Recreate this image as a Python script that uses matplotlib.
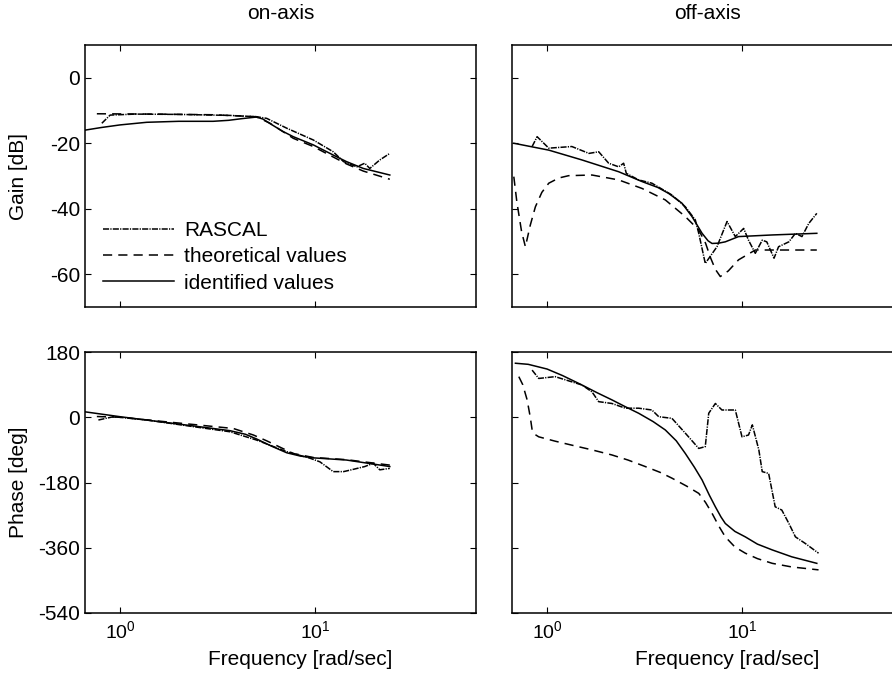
import matplotlib.pyplot as plt
import numpy as np

plt.rcParams['font.family'] = ['Liberation Sans', 'DejaVu Sans']
plt.rcParams['axes.unicode_minus'] = False

# on-axis gain [dB]
on_gain_ras_f = [0.806, 0.889, 1.2, 2.03, 3.66, 5.02, 5.65, 7.16, 9.8, 12.4, 14.0, 16.4, 18.0, 19.1, 21.5, 24.2]
on_gain_ras = [-13.9, -11.4, -11.1, -11.2, -11.5, -11.9, -12.4, -15.4, -19.0, -22.6, -25.6, -27.2, -26.1, -27.7, -25.1, -23.1]
on_gain_th_f = [0.76, 1.5, 3.0, 5.0, 5.88, 7.74, 9.8, 12.4, 14.5, 17.7, 24.2]
on_gain_th = [-11.0, -11.1, -11.3, -11.9, -13.9, -18.5, -21.0, -24.2, -26.3, -28.5, -31.0]
on_gain_id_f = [0.66, 0.8, 1.0, 1.37, 2.0, 3.0, 3.6, 4.2, 5.0, 5.4, 5.88, 6.8, 7.74, 9.8, 12.4, 14.5, 17.7, 24.2]
on_gain_id = [-16.0, -15.2, -14.4, -13.6, -13.3, -13.3, -13.0, -12.5, -12.0, -12.6, -14.0, -16.3, -18.0, -20.5, -23.6,
              -25.6, -27.7, -29.7]

# on-axis phase [deg]
on_ph_ras_f = [0.774, 0.924, 1.37, 2.38, 3.66, 5.02, 7.16, 9.43, 10.6, 12.4, 14.0, 15.1, 18.0, 19.9, 21.5, 24.2]
on_ph_ras = [-7.6, 1.5, -7.6, -26, -40, -63, -95, -113, -123, -150, -150, -146, -136, -127, -145, -141]
on_ph_th_f = [0.76, 1.0, 2.38, 3.81, 4.83, 5.65, 7.74, 9.8, 14.5, 24.2]
on_ph_th = [2, 0, -20, -31, -49, -65, -100, -111, -117, -132]
on_ph_id_f = [0.66, 1.0, 2.38, 3.66, 4.4, 5.02, 6.0, 7.16, 8.4, 9.8, 14.5, 24.2]
on_ph_id = [15, 1.5, -24, -37, -47, -60, -80, -98, -107, -112, -118, -136]

# off-axis gain [dB]
off_gain_ras_f = [0.838, 0.889, 1.02, 1.34, 1.64, 1.84, 2.07, 2.33, 2.47, 2.55, 2.95, 3.45, 4.37, 5.12, 5.76, 6.0,
                  6.48, 7.44, 8.38, 9.24, 10.2, 10.8, 11.7, 12.7, 13.4, 14.6, 15.4, 17.4, 18.8, 20.3, 22.0, 24.2]
off_gain_ras = [-21.0, -18.0, -21.5, -21.0, -23.1, -22.6, -26.1, -27.2, -26.1, -29.2, -31.2, -32.2, -35.8, -39.4, -43.4, -47.5,
                -56.7, -51.6, -43.9, -48.5, -46.0, -49.6, -53.6, -49.6, -50.1, -55.1, -51.6, -50.1, -47.5, -48.5, -44.5, -41.4]
off_gain_th_f = [0.675, 0.7, 0.74, 0.774, 0.82, 0.871, 0.94, 1.02, 1.15, 1.29, 1.70, 2.33, 3.07, 4.04, 5.12, 6.0, 6.5,
                 6.9, 7.3, 7.74, 8.5, 9.6, 11.7, 15.0, 24.2]
off_gain_th = [-30.2, -38.0, -47.0, -51.6, -45.0, -39.4, -35.0, -32.2, -30.6, -29.9, -29.7, -31.2, -33.8, -37.3, -42.4,
               -46.5, -50.5, -55.0, -58.5, -60.7, -59.0, -55.6, -52.6, -52.6, -52.6]
off_gain_id_f = [0.675, 1.02, 1.51, 2.33, 3.07, 3.7, 4.20, 4.92, 5.54, 6.24, 6.7, 7.02, 7.6, 8.21, 9.6, 14.3, 24.2]
off_gain_id = [-20.0, -22.1, -25.1, -28.7, -31.7, -33.5, -35.3, -38.3, -42.4, -47.5, -49.8, -50.6, -50.5, -50.1, -48.5,
               -48.0, -47.5]

# off-axis phase [deg]
off_ph_ras_f = [0.838, 0.906, 1.10, 1.51, 1.70, 1.84, 2.15, 2.52, 2.95, 3.45, 3.74, 4.37, 5.12, 6.0, 6.48, 6.75,
                7.3, 7.89, 9.24, 10.0, 10.8, 11.3, 12.2, 12.7, 13.7, 14.8, 16.0, 17.4, 18.8, 21.1, 24.7]
off_ph_ras = [130, 107, 112, 89, 70, 43, 38, 25, 25, 20, 1.5, -3, -44, -86, -81, 11,
              38, 20, 20, -54, -49, -21, -90, -150, -155, -247, -256, -293, -330, -348, -375]
off_ph_th_f = [0.716, 0.75, 0.79, 0.82, 0.838, 0.87, 0.906, 1.1, 1.34, 1.7, 2.15, 2.6, 3.19, 3.8, 4.37, 5.2, 6.0, 6.5,
               7.02, 7.6, 8.21, 9.2, 10.4, 12.0, 14.3, 18.0, 24.7]
off_ph_th = [112, 90, 48, 0, -35, -48, -54, -66, -77, -90, -104, -118, -136, -152, -168, -190, -210, -235,
             -265, -300, -330, -358, -375, -390, -403, -413, -421]
off_ph_id_f = [0.688, 0.8, 1.0, 1.2, 1.51, 1.8, 2.15, 2.5, 2.95, 3.5, 4.04, 4.6, 5.12, 5.7, 6.24, 6.8, 7.3, 7.8, 8.21,
               9.2, 10.4, 12.0, 14.3, 18.0, 24.2]
off_ph_id = [149, 146, 133, 115, 89, 68, 48, 30, 11, -12, -35, -65, -100, -138, -173, -215, -247, -275, -293,
             -315, -330, -350, -366, -385, -403]

W, H = 892, 679
fig = plt.figure(figsize=(W / 100, H / 100), dpi=100)

def box(x0, y0, x1, y1):
    return [x0 / W, 1 - y1 / H, (x1 - x0) / W, (y1 - y0) / H]

ax_gl = fig.add_axes(box(85, 45, 476, 307))
ax_gr = fig.add_axes(box(512, 45, 903, 307))
ax_pl = fig.add_axes(box(85, 352, 476, 613))
ax_pr = fig.add_axes(box(512, 352, 903, 613))

ras_ls = (0, (4, 0.8, 0.8, 0.8))
th_ls = (0, (6, 4))
lw = 1.1

ax_gl.plot(on_gain_ras_f, on_gain_ras, c='k', lw=lw, ls=ras_ls, label='RASCAL')
ax_gl.plot(on_gain_th_f, on_gain_th, c='k', lw=lw, ls=th_ls, label='theoretical values')
ax_gl.plot(on_gain_id_f, on_gain_id, c='k', lw=lw, label='identified values')

ax_gr.plot(off_gain_ras_f, off_gain_ras, c='k', lw=lw, ls=ras_ls)
ax_gr.plot(off_gain_th_f, off_gain_th, c='k', lw=lw, ls=th_ls)
ax_gr.plot(off_gain_id_f, off_gain_id, c='k', lw=lw)

ax_pl.plot(on_ph_ras_f, on_ph_ras, c='k', lw=lw, ls=ras_ls)
ax_pl.plot(on_ph_th_f, on_ph_th, c='k', lw=lw, ls=th_ls)
ax_pl.plot(on_ph_id_f, on_ph_id, c='k', lw=lw)

ax_pr.plot(off_ph_ras_f, off_ph_ras, c='k', lw=lw, ls=ras_ls)
ax_pr.plot(off_ph_th_f, off_ph_th, c='k', lw=lw, ls=th_ls)
ax_pr.plot(off_ph_id_f, off_ph_id, c='k', lw=lw)

xlo, xhi = 10 ** -0.18, 10 ** 1.826
for ax in [ax_gl, ax_gr, ax_pl, ax_pr]:
    ax.set_xscale('log')
    ax.set_xlim(xlo, xhi)
    ax.set_xticks([1, 10])
    ax.minorticks_off()
    ax.tick_params(direction='in', top=True, right=True, length=4, labelsize=15)
    for s in ax.spines.values():
        s.set_linewidth(1.1)

for ax in [ax_gl, ax_gr]:
    ax.set_ylim(-70, 10)
    ax.set_yticks([0, -20, -40, -60])
    ax.tick_params(labelbottom=False)
for ax in [ax_pl, ax_pr]:
    ax.set_ylim(-540, 180)
    ax.set_yticks([180, 0, -180, -360, -540])
    ax.tick_params(axis='x', labelsize=14, pad=5)
    ax.set_xlabel('Frequency [rad/sec]', fontsize=15)
    ax.xaxis.set_label_coords(0.55, -0.14)
ax_gr.tick_params(labelleft=False)
ax_pr.tick_params(labelleft=False)

ax_gl.set_title('on-axis', fontsize=15, pad=19)
ax_gr.set_title('off-axis', fontsize=15, pad=19)
ax_gl.set_ylabel('Gain [dB]', fontsize=15)
ax_pl.set_ylabel('Phase [deg]', fontsize=15)
ax_gl.yaxis.set_label_coords(-0.145, 0.5)
ax_pl.yaxis.set_label_coords(-0.145, 0.5)

ax_gl.legend(loc='lower left', bbox_to_anchor=(0.02, 0.015), frameon=False, fontsize=15,
             handlelength=3.4, handletextpad=0.5, labelspacing=0.35, borderpad=0)

fig.savefig('out.png', dpi=100)
